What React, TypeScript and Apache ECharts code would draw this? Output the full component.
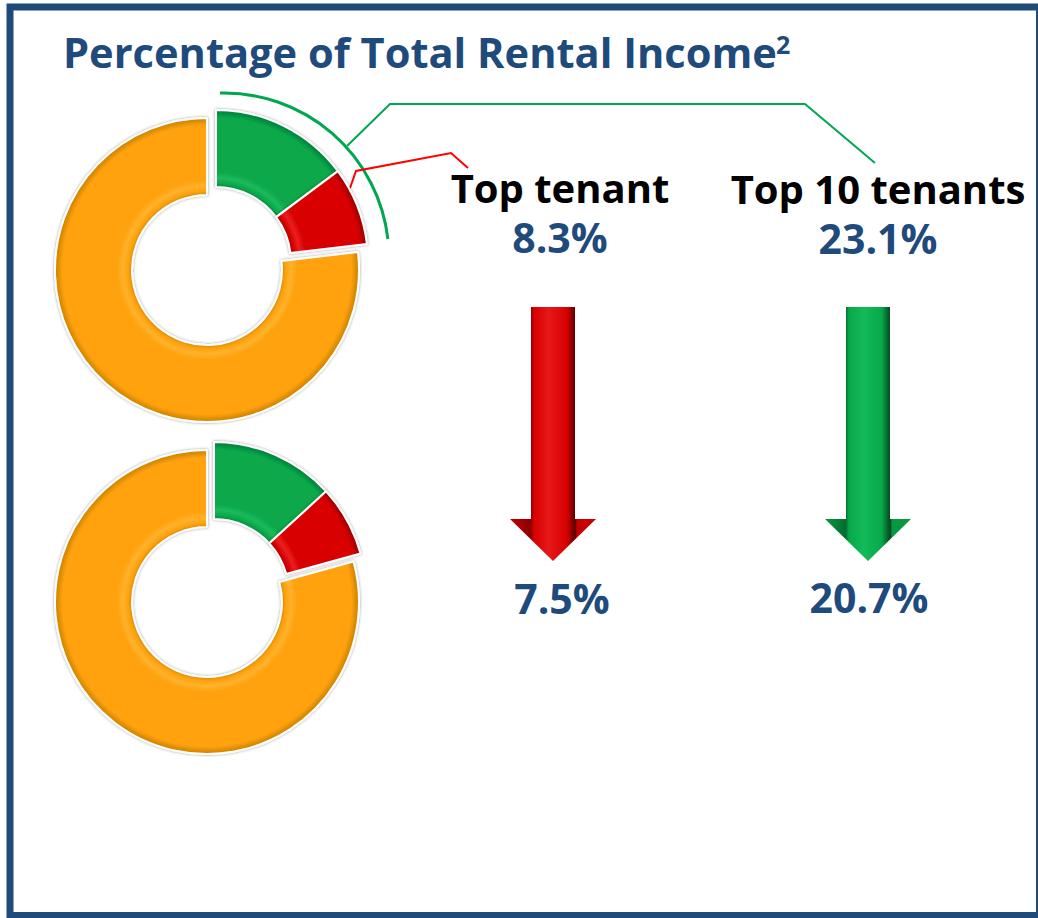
import React, { useEffect, useRef } from 'react';
import * as echarts from 'echarts';

// ---------- data ----------
const periods = ['Previous', 'Current'];
const topTenantPct = [8.3, 7.5];
const top10Pct = [23.1, 20.7];
const sliceNames = ['Top 2-10 tenants', 'Top tenant', 'Other tenants'];
const headerLabels = ['Top tenant', 'Top 10 tenants'];
const titleText = 'Percentage of Total Rental Income';
const titleSup = '2';

// ---------- layout / style ----------
const W = 1038;
const H = 918;
const donutCenters = [[207, 270], [207, 602]];
const detachedCenters = [[216, 262], [214, 594]];
const R_IN = 75;
const R_OUT = 152;
const BLUE = '#1F4A7C';
const FONT = '"Open Sans", "Lato", sans-serif';

const ratio = R_IN / R_OUT;

function ring(cx: number, cy: number, dark: string, base: string, light: string) {
  return new echarts.graphic.RadialGradient(
    cx,
    cy,
    R_OUT,
    [
      { offset: ratio - 0.01, color: dark },
      { offset: ratio + 0.025, color: base },
      { offset: ratio + 0.06, color: light },
      { offset: ratio + 0.1, color: base },
      { offset: 0.95, color: base },
      { offset: 1, color: dark },
    ],
    true
  );
}

const transparent = { color: 'rgba(0,0,0,0)', borderWidth: 0, shadowBlur: 0 };

function buildSeries() {
  const out: any[] = [];
  periods.forEach((p, i) => {
    const rest = +(top10Pct[i] - topTenantPct[i]).toFixed(1);
    const top = topTenantPct[i];
    const others = +(100 - top10Pct[i]).toFixed(1);
    const values = [rest, top, others];
    const [ocx, ocy] = donutCenters[i];
    const [dcx, dcy] = detachedCenters[i];
    const common = {
      type: 'pie',
      radius: [R_IN, R_OUT],
      startAngle: 90,
      clockwise: true,
      silent: true,
      label: { show: false },
      labelLine: { show: false },
      emphasis: { disabled: true },
      animation: false,
    };
    const edge = {
      borderColor: '#ffffff',
      borderWidth: 2,
      shadowBlur: 3,
      shadowColor: 'rgba(0,0,0,0.4)',
    };
    out.push({
      ...common,
      name: p + ' others',
      center: [ocx, ocy],
      data: values.map((v, k) => ({
        name: sliceNames[k],
        value: v,
        itemStyle:
          k === 2
            ? { ...edge, color: ring(ocx, ocy, '#C88000', '#FFA20B', '#FFB22E') }
            : transparent,
      })),
    });
    out.push({
      ...common,
      name: p + ' top 10',
      center: [dcx, dcy],
      data: values.map((v, k) => ({
        name: sliceNames[k],
        value: v,
        itemStyle:
          k === 0
            ? { ...edge, color: ring(dcx, dcy, '#057D3A', '#07A84A', '#1DBA5C') }
            : k === 1
            ? { ...edge, color: ring(dcx, dcy, '#960000', '#D80000', '#EA2020') }
            : transparent,
      })),
    });
  });
  return out;
}

function arrow(cx: number, top: number, headTop: number, tip: number, shaftHalf: number, headHalf: number, stops: string[]) {
  return {
    type: 'polygon',
    silent: true,
    shape: {
      points: [
        [cx - shaftHalf, top],
        [cx + shaftHalf, top],
        [cx + shaftHalf, headTop],
        [cx + headHalf, headTop],
        [cx, tip],
        [cx - headHalf, headTop],
        [cx - shaftHalf, headTop],
      ],
    },
    style: {
      fill: new echarts.graphic.LinearGradient(0, 0, 1, 0, [
        { offset: 0, color: stops[1] },
        { offset: 0.24, color: stops[0] },
        { offset: 0.28, color: stops[2] },
        { offset: 0.45, color: stops[3] },
        { offset: 0.66, color: stops[2] },
        { offset: 0.76, color: stops[4] },
        { offset: 0.78, color: stops[1] },
        { offset: 1, color: stops[1] },
      ]),
    },
  };
}

function txt(x: number, y: number, text: string, size: number, color: string, align = 'center') {
  return {
    type: 'text',
    silent: true,
    style: {
      x,
      y,
      text,
      fill: color,
      fontSize: size,
      fontWeight: 'bold',
      fontFamily: FONT,
      align,
      textAlign: align,
      verticalAlign: 'middle',
      textVerticalAlign: 'middle',
    },
  };
}

const deg = Math.PI / 180;

function buildGraphic() {
  const fmt = (v: number) => v.toFixed(1) + '%';
  return [
    {
      type: 'rect',
      silent: true,
      shape: { x: 10, y: 7, width: 1029.5, height: 908.5 },
      style: { fill: 'none', stroke: BLUE, lineWidth: 7 },
    },
    txt(63, 52, titleText, 41.6, BLUE, 'left'),
    txt(776, 44, titleSup, 25, BLUE, 'left'),
    // leader: top-10 arc + line
    {
      type: 'arc',
      silent: true,
      shape: { cx: 224, cy: 258, r: 165, startAngle: -91.4 * deg, endAngle: -6.6 * deg, clockwise: true },
      style: { stroke: '#00A650', lineWidth: 3, fill: 'none' },
    },
    {
      type: 'polyline',
      silent: true,
      shape: { points: [[347, 146], [390, 104], [805, 104], [875, 163]] },
      style: { stroke: '#00A650', lineWidth: 2, fill: 'none' },
    },
    {
      type: 'polyline',
      silent: true,
      shape: { points: [[350, 188], [356, 171], [451, 153], [468, 168]] },
      style: { stroke: '#FF0000', lineWidth: 2, fill: 'none' },
    },
    txt(560, 187, headerLabels[0], 40, '#000000'),
    txt(878, 188, headerLabels[1], 40, '#000000'),
    txt(560, 237, fmt(topTenantPct[0]), 41, BLUE),
    txt(878, 238, fmt(top10Pct[0]), 41, BLUE),
    arrow(553, 307, 519, 561, 22, 43, ['#8A0000', '#C40000', '#D80000', '#E61818', '#5A0000']),
    arrow(868, 307, 519, 561, 22, 43, ['#046B30', '#06993F', '#07A84A', '#14BA58', '#02451D']),
    txt(562, 598, fmt(topTenantPct[1]), 41, BLUE),
    txt(869, 597, fmt(top10Pct[1]), 41, BLUE),
  ];
}

export default function App() {
  const ref = useRef<HTMLDivElement>(null);
  useEffect(() => {
    if (!ref.current) return;
    const chart = echarts.init(ref.current, undefined, { renderer: 'svg', width: W, height: H });
    chart.setOption({
      animation: false,
      backgroundColor: '#ffffff',
      series: buildSeries(),
      graphic: buildGraphic(),
    });
    return () => chart.dispose();
  }, []);
  return (
    <div
      ref={ref}
      style={{ position: 'fixed', left: 0, top: 0, width: W, height: H, background: '#fff' }}
    />
  );
}
